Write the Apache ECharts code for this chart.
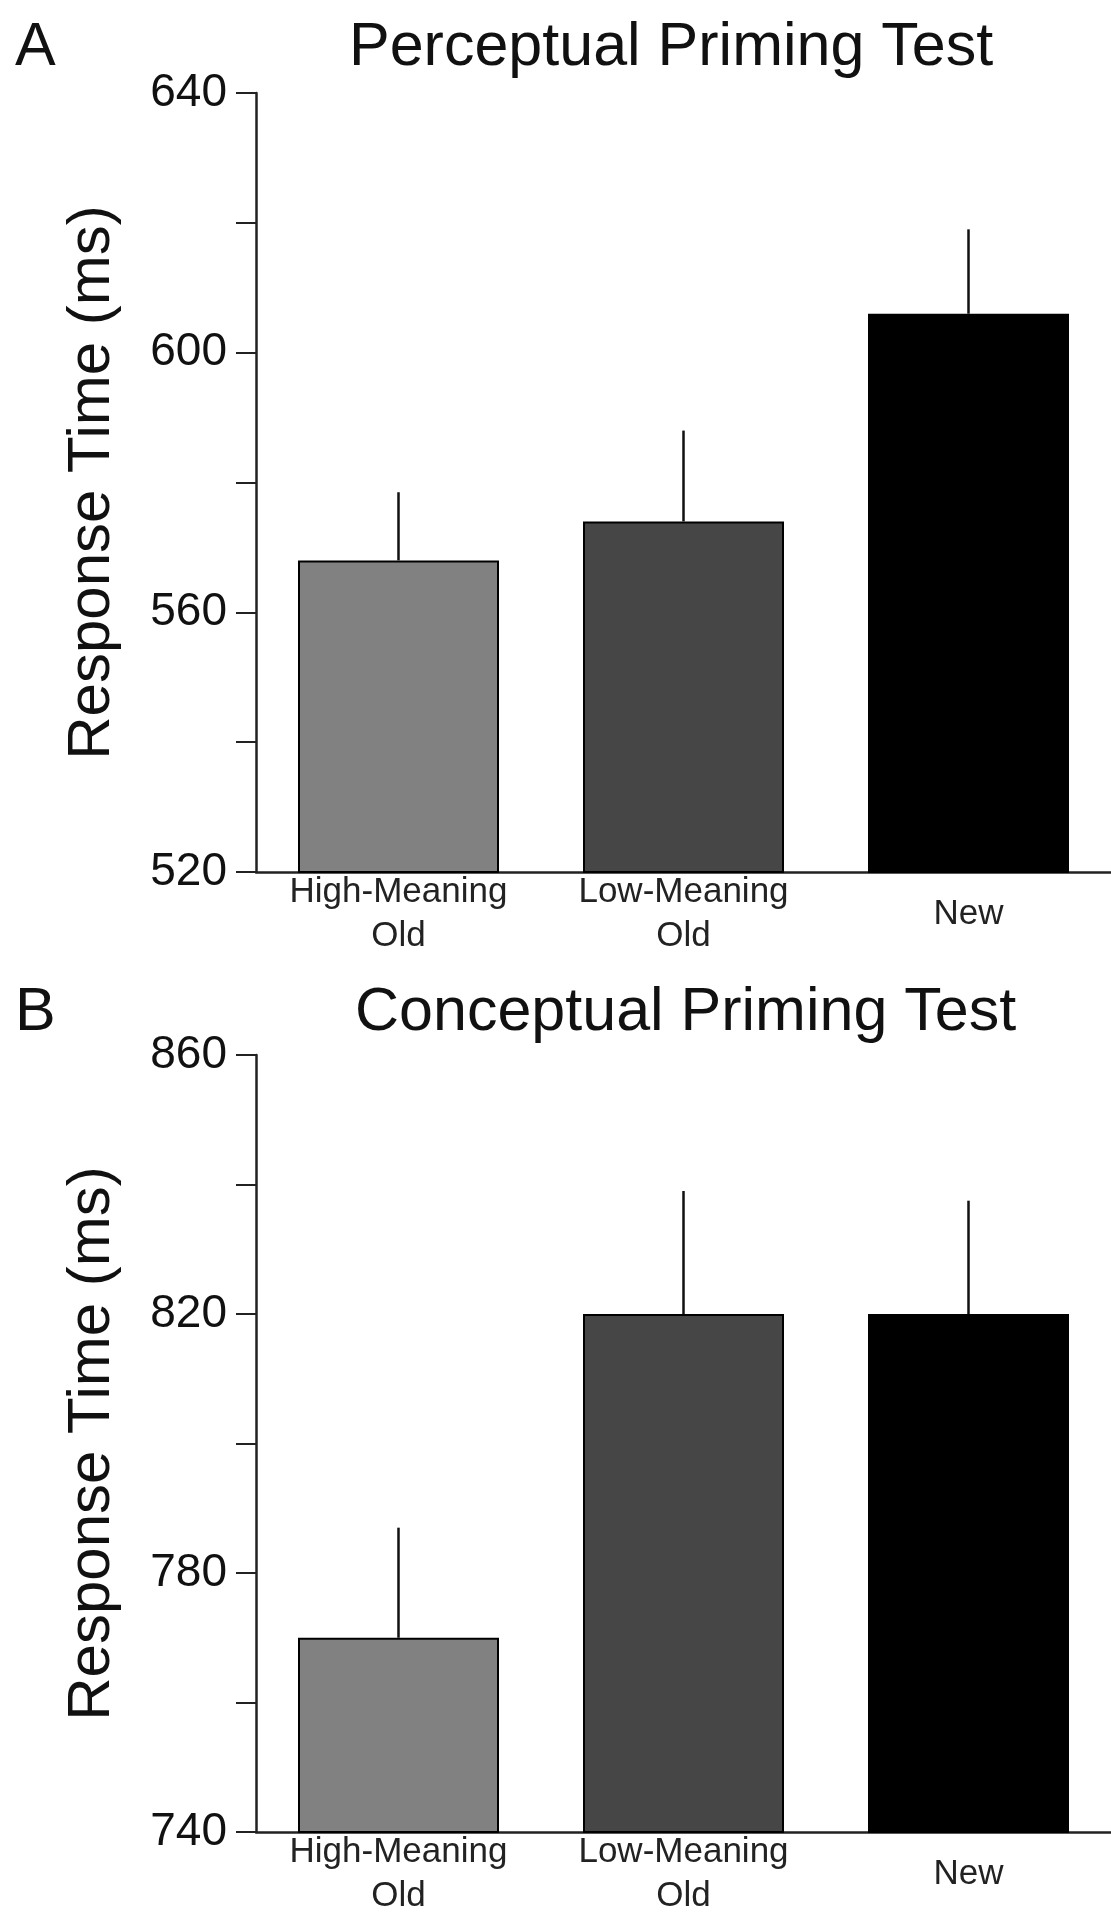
<!DOCTYPE html>
<html>
<head>
<meta charset="utf-8">
<script src="https://cdn.jsdelivr.net/npm/echarts@6/dist/echarts.min.js"></script>
<style>
  html, body { margin: 0; padding: 0; background: #fff; }
  #chart { width: 1111px; height: 1919px; }
</style>
</head>
<body>
<div id="chart"></div>
<script>
// data
const categories = ["High-Meaning\nOld", "Low-Meaning\nOld", "New"];
const barColors = ["#818181", "#464646", "#000000"];

const perceptualMeans = [568, 574, 606];
const perceptualSE = [10.5, 14, 13];

const conceptualMeans = [770, 820, 820];
const conceptualSE = [17, 19, 17.5];

const FONT = "'Liberation Sans', Arial, Helvetica, sans-serif";

const makeBarData = (means) =>
  means.map((v, i) => ({ value: v, itemStyle: { color: barColors[i] } }));

const makeErrData = (means, se) => means.map((v, i) => [i, v, se[i]]);

const renderErrorBar = (params, api) => {
  const idx = api.value(0);
  const mean = api.value(1);
  const se = api.value(2);
  const base = api.coord([idx, mean]);
  const top = api.coord([idx, mean + se]);
  return {
    type: "line",
    shape: { x1: base[0], y1: base[1], x2: top[0], y2: top[1] },
    style: { stroke: "#111", lineWidth: 2.5 },
  };
};

// ticks every 20, labels only every 40 starting at min
const buildYAxis = (gridIndex, min, max) => ({
  type: "value",
  gridIndex,
  min,
  max,
  interval: 20,
  name: "Response Time (ms)",
  nameLocation: "middle",
  nameGap: 134,
  nameTextStyle: { fontFamily: FONT, fontSize: 60, color: "#111" },
  axisLine: { show: true, lineStyle: { color: "#222", width: 2.5 } },
  axisTick: { show: true, inside: false, length: 20, lineStyle: { color: "#222", width: 2 } },
  splitLine: { show: false },
  axisLabel: {
    margin: 29,
    fontFamily: FONT,
    fontSize: 46,
    color: "#111",
    formatter: (v) => ((v - min) % 40 === 0 ? String(v) : ""),
  },
});

const buildXAxis = (gridIndex) => ({
  type: "category",
  gridIndex,
  data: categories,
  axisLine: { show: true, lineStyle: { color: "#222", width: 2.5 } },
  axisTick: { show: false },
  axisLabel: {
    interval: 0,
    hideOverlap: false,
    margin: 42,
    verticalAlign: "middle",
    fontFamily: FONT,
    fontSize: 35,
    lineHeight: 44,
    color: "#222",
  },
});

const titleText = (x, y, text) => ({
  type: "text",
  left: x,
  top: y,
  style: {
    text,
    fontFamily: FONT,
    fontSize: 61,
    fill: "#111",
  },
});

const chart = echarts.init(document.getElementById("chart"), null, { renderer: "canvas" });

chart.setOption({
  animation: false,
  backgroundColor: "#fff",
  grid: [
    { left: 256, right: 0, top: 93, height: 779 },
    { left: 256, right: 0, top: 1055, height: 777 },
  ],
  xAxis: [buildXAxis(0), buildXAxis(1)],
  yAxis: [buildYAxis(0, 520, 640), buildYAxis(1, 740, 860)],
  graphic: [
    titleText(15, 18, "A"),
    titleText(349, 18, "Perceptual Priming Test"),
    titleText(15, 983, "B"),
    titleText(355, 983, "Conceptual Priming Test"),
  ],
  series: [
    {
      type: "bar",
      xAxisIndex: 0,
      yAxisIndex: 0,
      barWidth: 201,
      data: makeBarData(perceptualMeans),
      itemStyle: { borderColor: "#000", borderWidth: 2 },
    },
    {
      type: "custom",
      xAxisIndex: 0,
      yAxisIndex: 0,
      renderItem: renderErrorBar,
      data: makeErrData(perceptualMeans, perceptualSE),
      z: 3,
    },
    {
      type: "bar",
      xAxisIndex: 1,
      yAxisIndex: 1,
      barWidth: 201,
      data: makeBarData(conceptualMeans),
      itemStyle: { borderColor: "#000", borderWidth: 2 },
    },
    {
      type: "custom",
      xAxisIndex: 1,
      yAxisIndex: 1,
      renderItem: renderErrorBar,
      data: makeErrData(conceptualMeans, conceptualSE),
      z: 3,
    },
  ],
});
</script>
</body>
</html>
